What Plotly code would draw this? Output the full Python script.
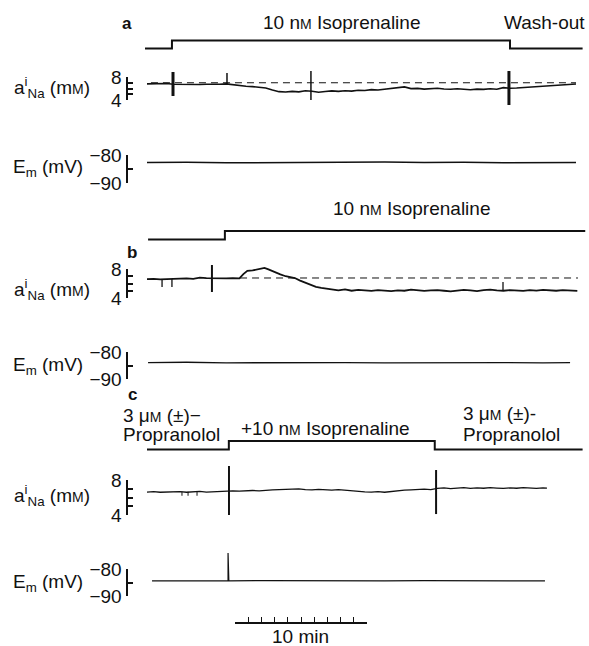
import plotly.graph_objects as go

# ---------------- data (time in min, aNa in mM, Em in mV) ----------------
# Panel a : intracellular Na activity
a_na_t = [0.0, 0.5, 1.0, 1.5, 2.0, 2.5, 3.0, 3.5, 4.0, 4.5, 5.0, 5.5, 6.0, 6.5, 7.0, 7.5, 8.0, 8.5,
          9.0, 9.5, 10.0, 10.5, 11.0, 11.5, 12.0, 12.5, 13.0, 13.5, 14.0, 14.5, 15.0, 15.5, 16.0,
          16.5, 17.0, 17.5, 18.0, 18.5, 19.0, 19.5, 20.0, 20.5, 21.0, 21.5, 22.0, 22.5, 23.0, 23.5,
          24.0, 24.5, 25.0, 25.5, 26.0, 26.5, 27.0, 27.5, 28.0, 28.5, 29.0, 29.5, 30.0, 30.5, 31.0,
          31.5, 32.0, 32.5]
a_na_v = [6.80, 6.85, 6.78, 6.88, 6.75, 6.72, 6.80, 6.76, 6.70, 6.74, 6.68, 6.75, 6.80, 6.62, 6.55,
          6.38, 6.32, 6.15, 6.10, 5.75, 5.45, 5.38, 5.50, 5.42, 5.60, 5.52, 5.35, 5.48, 5.58, 5.50,
          5.62, 5.55, 5.70, 5.66, 5.80, 5.75, 5.88, 5.95, 6.05, 6.28, 5.98, 6.02, 5.90, 5.96, 6.05,
          5.92, 5.86, 5.95, 5.84, 5.78, 5.90, 5.85, 5.95, 5.88, 6.15, 6.05, 6.10, 6.18, 6.22, 6.28,
          6.35, 6.40, 6.50, 6.58, 6.70, 6.78]
a_na_baseline = 7.0
a_art_t = [1.97, 27.42]          # solution-change artefacts
a_art_lo = [4.70, 3.13]
a_art_hi = [8.87, 9.04]
a_spk_t = [6.06, 12.42]
a_spk_lo = [6.75, 4.00]
a_spk_hi = [8.70, 9.04]
a_em_t = [0.0, 3.0, 6.0, 9.0, 12.0, 15.0, 18.0, 21.0, 24.0, 27.0, 30.0, 32.5]
a_em_v = [-82.7, -82.6, -82.8, -82.7, -82.6, -82.7, -82.5, -82.7, -82.6, -82.8, -82.7, -82.7]
a_stim_t = [-0.15, 1.89, 27.5, 33.0]
a_stim_on = [0, 1, 0, 0]

# Panel b
b_na_t = [0.0, 0.5, 1.0, 1.5, 2.0, 2.5, 3.0, 3.5, 4.0, 4.5, 5.0, 5.5, 6.0, 6.5, 7.0, 7.3, 7.6, 8.0,
          8.3, 8.6, 8.9, 9.2, 9.5, 9.8, 10.1, 10.5, 10.8, 11.2, 11.6, 12.0, 12.4, 12.8, 13.2, 13.6,
          14.0, 14.5, 15.0, 15.5, 16.0, 16.5, 17.0, 17.5, 18.0, 18.5, 19.0, 19.5, 20.0, 20.5, 21.0,
          21.5, 22.0, 22.5, 23.0, 23.5, 24.0, 24.5, 25.0, 25.5, 26.0, 26.5, 27.0, 27.5, 28.0, 28.5,
          29.0, 29.5, 30.0, 30.5, 31.0, 31.5, 32.0, 32.6]
b_na_v = [6.60, 6.65, 6.58, 6.62, 6.66, 6.60, 6.70, 6.65, 6.82, 6.75, 6.72, 6.78, 6.70, 6.74, 6.72,
          7.30, 7.75, 7.80, 7.95, 8.00, 8.15, 7.95, 7.70, 7.50, 7.25, 7.00, 6.85, 6.75, 6.40, 6.10,
          5.75, 5.55, 5.40, 5.30, 5.18, 5.05, 5.20, 5.00, 5.12, 5.05, 4.98, 5.10, 5.02, 4.95, 5.05,
          5.00, 5.15, 5.08, 4.98, 5.05, 5.10, 5.00, 4.92, 5.02, 5.12, 5.05, 4.95, 5.08, 5.15, 5.05,
          5.00, 5.10, 5.05, 4.98, 5.08, 5.02, 5.12, 5.05, 5.00, 5.08, 5.02, 4.97]
b_na_baseline = 6.76
b_base_t = [7.05, 32.65]
b_art_t = [4.92]
b_art_lo = [4.83]
b_art_hi = [8.55]
b_spk_t = [1.14, 1.89, 26.97]
b_spk_lo = [5.52, 5.52, 5.05]
b_spk_hi = [6.62, 6.62, 6.21]
b_em_t = [0.08, 3.0, 6.0, 9.0, 12.0, 15.0, 18.0, 21.0, 24.0, 27.0, 30.0, 32.05]
b_em_v = [-83.9, -83.8, -84.0, -83.9, -83.8, -83.9, -84.0, -83.9, -83.8, -83.9, -84.0, -83.9]
b_stim_t = [0.08, 5.9, 33.2]
b_stim_on = [0, 1, 1]

# Panel c
c_na_t = [0.0, 0.5, 1.0, 1.5, 2.0, 2.5, 3.0, 3.5, 4.0, 4.5, 5.0, 5.5, 6.0, 6.5, 7.0, 7.5, 8.0, 8.5,
          9.0, 9.5, 10.0, 10.5, 11.0, 11.5, 12.0, 12.5, 13.0, 13.5, 14.0, 14.5, 15.0, 15.5, 16.0,
          16.5, 17.0, 17.5, 18.0, 18.5, 19.0, 19.5, 20.0, 20.5, 21.0, 21.5, 22.0, 22.5, 23.0, 23.5,
          24.0, 24.5, 25.0, 25.5, 26.0, 26.5, 27.0, 27.5, 28.0, 28.5, 29.0, 29.5, 30.0, 30.3]
c_na_v = [6.62, 6.66, 6.60, 6.64, 6.63, 6.68, 6.60, 6.65, 6.70, 6.62, 6.66, 6.70, 6.68, 6.75, 6.72,
          6.78, 6.80, 6.76, 6.84, 6.88, 6.90, 6.95, 6.92, 6.98, 6.90, 6.86, 6.92, 6.88, 6.85, 6.90,
          6.82, 6.78, 6.72, 6.65, 6.62, 6.66, 6.60, 6.70, 6.76, 6.85, 6.88, 6.92, 6.95, 6.90, 7.05,
          7.10, 7.02, 7.08, 7.12, 7.05, 7.10, 7.06, 7.12, 7.08, 7.04, 7.10, 7.06, 7.12, 7.08, 7.05,
          7.10, 7.08]
c_art_t = [6.21, 21.9]
c_art_lo = [4.00, 4.11]
c_art_hi = [9.60, 9.14]
c_spk_t = [2.65, 3.11, 3.79]
c_spk_lo = [6.20, 6.20, 6.20]
c_spk_hi = [6.65, 6.65, 6.65]
c_em_t = [0.38, 3.0, 6.0, 6.14, 6.14, 6.2, 9.0, 12.0, 15.0, 18.0, 21.0, 24.0, 27.0, 30.15]
c_em_v = [-84.4, -84.3, -84.4, -84.4, -74.1, -84.4, -84.3, -84.4, -84.5, -84.4, -84.3, -84.4, -84.4, -84.4]
c_stim_t = [0.0, 6.2, 21.8, 33.0]
c_stim_on = [0, 1, 0, 0]

na_scale_ticks = [4, 5, 6, 7, 8]
em_scale_ticks = [-90, -85, -80]
time_bar_start = 6.67
time_bar_len = 10

# ---------------- layout helpers ----------------
W, H = 589, 646
X0, PXM = 147.0, 13.2          # pixel of t = 0, pixels per minute
INK = "#111111"
FONT = "Liberation Sans, Arial, Helvetica, sans-serif"
FS = 19
SM = "<span style='font-size:14px'>M</span>"   # small-capital M (mM, nM, uM)


def fx(px):
    return px / W


def fy(py):
    return 1 - py / H


def t_px(px):
    return (px - X0) / PXM


layout = dict(
    template="none",
    width=W, height=H, margin=dict(l=0, r=0, t=0, b=0, pad=0, autoexpand=False),
    paper_bgcolor="white", plot_bgcolor="rgba(0,0,0,0)", showlegend=False,
    font=dict(family=FONT, size=FS, color=INK),
    xaxis=dict(domain=[0, 1], range=[t_px(0), t_px(W)], visible=False, fixedrange=True,
               automargin=False),
)


def trace_axis(name, top, bot, v1, p1, v2, p2):
    slope = (v2 - v1) / (p2 - p1)
    layout[name] = dict(domain=[fy(bot), fy(top)],
                        range=[v1 + (bot - p1) * slope, v1 + (top - p1) * slope],
                        visible=False, anchor="x", fixedrange=True, automargin=False)


# pixel calibration of each record
NA_A = (8, 77, 4, 100)
EM_A = (-80, 155, -90, 183)
NA_B = (8, 269, 4, 298)
EM_B = (-80, 352, -90, 379)
NA_C = (8, 480, 4, 515)
EM_C = (-80, 569, -90, 596)

trace_axis("yaxis", 25, 58, 0, 48.5, 1, 40.5)
trace_axis("yaxis2", 55, 120, *NA_A)
trace_axis("yaxis3", 135, 195, *EM_A)
trace_axis("yaxis4", 220, 250, 0, 239.5, 1, 231)
trace_axis("yaxis5", 255, 310, *NA_B)
trace_axis("yaxis6", 335, 395, *EM_B)
trace_axis("yaxis7", 430, 460, 0, 449.5, 1, 441)
trace_axis("yaxis8", 455, 530, *NA_C)
trace_axis("yaxis9", 545, 605, *EM_C)

fig = go.Figure()

# calibration brackets built from axes
BX = 127.5
bracket_id = 10
for cal, ticks in [(NA_A, na_scale_ticks), (EM_A, em_scale_ticks), (NA_B, na_scale_ticks),
                   (EM_B, em_scale_ticks), (NA_C, na_scale_ticks), (EM_C, em_scale_ticks)]:
    v1, p1, v2, p2 = cal
    xn = bracket_id - 8
    layout[f"xaxis{xn}"] = dict(domain=[fx(BX), fx(BX + 6)], range=[0, 1], visible=False,
                                anchor=f"y{bracket_id}", fixedrange=True, automargin=False)
    labels = [(str(v).replace("-", "\u2212") if v in (v1, v2) else "") for v in ticks]
    layout[f"yaxis{bracket_id}"] = dict(
        domain=[fy(p2), fy(p1)], range=[v2, v1], anchor=f"x{xn}", side="left",
        showline=True, linewidth=2, linecolor=INK, ticks="inside", ticklen=5, tickwidth=2,
        tickcolor=INK, tickvals=ticks, ticktext=labels, showgrid=False, zeroline=False,
        tickfont=dict(size=FS, family=FONT, color=INK), fixedrange=True, automargin=False)
    # invisible carrier so that the calibration subplot is rendered
    fig.add_trace(go.Scatter(x=[0.5] * len(ticks), y=ticks, mode="markers",
                             marker=dict(opacity=0), xaxis=f"x{xn}", yaxis=f"y{bracket_id}",
                             hoverinfo="skip"))
    bracket_id += 1

# time calibration bar
bar_x0 = X0 + time_bar_start * PXM
bar_x1 = X0 + (time_bar_start + time_bar_len) * PXM
layout["xaxis8"] = dict(domain=[fx(bar_x0), fx(bar_x1)],
                        range=[time_bar_start, time_bar_start + time_bar_len],
                        anchor="y16", showline=True, linewidth=1.6, linecolor=INK,
                        ticks="inside", tick0=time_bar_start, dtick=1, ticklen=5, tickwidth=1.3,
                        tickcolor=INK, showticklabels=False, showgrid=False, zeroline=False,
                        fixedrange=True, automargin=False)
layout["yaxis16"] = dict(domain=[fy(622), fy(612)], range=[0, 1], visible=False,
                         anchor="x8", fixedrange=True, automargin=False)
fig.add_trace(go.Scatter(x=[time_bar_start, time_bar_start + time_bar_len], y=[0.5, 0.5],
                         mode="markers", marker=dict(opacity=0), xaxis="x8", yaxis="y16",
                         hoverinfo="skip"))


def line(x, y, ax, width=1.3, dash=None, shape="linear"):
    fig.add_trace(go.Scatter(x=x, y=y, mode="lines", yaxis=ax, xaxis="x",
                             line=dict(color=INK, width=width, dash=dash, shape=shape),
                             hoverinfo="skip"))


def spikes(ts, lo, hi, ax, width):
    xs, ys = [], []
    for t, l, h in zip(ts, lo, hi):
        xs += [t, t, None]
        ys += [l, h, None]
    line(xs, ys, ax, width=width)


# stimulus bars
line(a_stim_t, a_stim_on, "y", width=2, shape="hv")
line(b_stim_t, b_stim_on, "y4", width=2, shape="hv")
line(c_stim_t, c_stim_on, "y7", width=2, shape="hv")

# panel a
line([0.3, a_na_t[-1]], [a_na_baseline, a_na_baseline], "y2", width=1, dash="7px,5px")
line(a_na_t, a_na_v, "y2", width=1.6)
spikes(a_art_t, a_art_lo, a_art_hi, "y2", 3)
spikes(a_spk_t, a_spk_lo, a_spk_hi, "y2", 1.5)
line(a_em_t, a_em_v, "y3", width=1.5)

# panel b
line(b_base_t, [b_na_baseline, b_na_baseline], "y5", width=1, dash="7px,5px")
line(b_na_t, b_na_v, "y5", width=1.8)
spikes(b_art_t, b_art_lo, b_art_hi, "y5", 2)
spikes(b_spk_t, b_spk_lo, b_spk_hi, "y5", 1.3)
line(b_em_t, b_em_v, "y6", width=1.3)

# panel c
line(c_na_t, c_na_v, "y8", width=1.3)
spikes(c_art_t, c_art_lo, c_art_hi, "y8", 2)
spikes(c_spk_t, c_spk_lo, c_spk_hi, "y8", 1)
line(c_em_t, c_em_v, "y9", width=1.2)

# ---------------- text ----------------
ann = []


def text(s, px, py, xanchor="center", size=FS, bold=False):
    if bold:
        s = f"<b>{s}</b>"
    ann.append(dict(text=s, x=fx(px), y=fy(py), xref="paper", yref="paper",
                    xanchor=xanchor, yanchor="middle", showarrow=False,
                    font=dict(size=size, family=FONT, color=INK)))


NA_LABEL = f"a<sup>i</sup><sub>Na</sub> (m{SM})"
EM_LABEL = "E<sub>m</sub> (mV)"

text("a", 127, 24, size=17, bold=True)
text(f"10 n{SM} Isoprenaline", 341, 23)
text("Wash-out", 544, 23)
text(NA_LABEL, 12, 87, xanchor="left")
text(EM_LABEL, 11, 168, xanchor="left")

text(f"10 n{SM} Isoprenaline", 411, 209)
text("b", 132, 252, size=17, bold=True)
text(NA_LABEL, 12, 289, xanchor="left")
text(EM_LABEL, 11, 366, xanchor="left")

text("c", 132, 395, size=17, bold=True)
text(f"3 \u03bc{SM} (\u00b1)\u2212", 121, 415, xanchor="left")
text("Propranolol", 121, 434, xanchor="left")
text(f"+10 n{SM} Isoprenaline", 239, 428, xanchor="left")
text(f"3 \u03bc{SM} (\u00b1)-", 461, 413, xanchor="left")
text("Propranolol", 461, 434, xanchor="left")
text(NA_LABEL, 12, 495, xanchor="left")
text(EM_LABEL, 11, 583, xanchor="left")

text("10 min", 300, 636)

layout["annotations"] = ann
fig.update_layout(**layout)
fig.write_html("out.html")
